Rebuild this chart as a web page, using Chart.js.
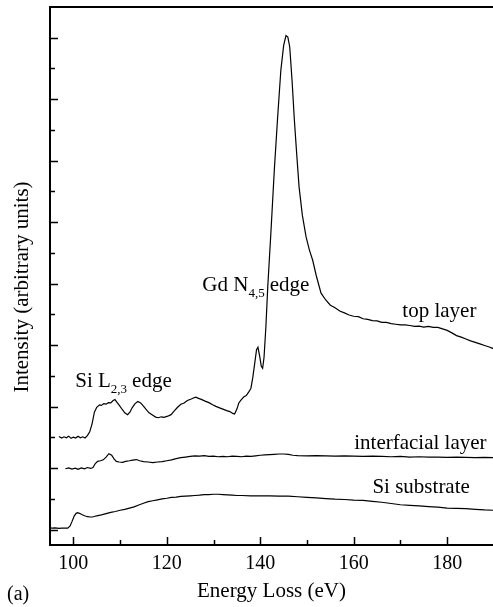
<!DOCTYPE html>
<html>
<head>
<meta charset="utf-8">
<script src="https://cdn.jsdelivr.net/npm/chart.js@4.4.1/dist/chart.umd.min.js"></script>
<style>
  body { margin: 0; background: #fff; }
  canvas { display: block; }
</style>
</head>
<body>
<canvas id="eels-chart" width="493" height="607"></canvas>
<script>
// energy loss (eV) and intensity
var topEnergy = [96.9, 97.5, 98, 98.5, 99, 99.5, 100, 100.5, 101, 101.5, 102, 102.5, 103, 103.5, 104, 104.5, 105, 105.6, 106, 106.5, 107, 107.5, 108, 108.5, 108.9, 109.3, 109.8, 110.5, 111, 111.6, 112.1, 112.6, 113.2, 113.8, 114.4, 115, 115.6, 116.2, 117, 117.6, 118.2, 118.8, 119.4, 120.2, 120.9, 121.6, 122.3, 123, 123.7, 124.4, 125.1, 125.7, 126.2, 126.8, 127.5, 128.2, 129, 129.8, 130.5, 131.3, 132, 132.8, 133.5, 134.1, 134.5, 135, 135.4, 135.9, 136.5, 137, 137.5, 138, 138.4, 138.8, 139.2, 139.5, 139.9, 140.2, 140.5, 140.8, 141.2, 141.6, 142.3, 143, 143.7, 144.4, 145, 145.5, 145.9, 146.3, 146.8, 147.3, 147.8, 148.3, 149, 149.8, 150.5, 151.2, 152, 153, 154, 155, 156, 157, 158, 159, 160, 161, 162, 163, 164, 165, 166, 167, 168, 169, 170, 171, 172, 173, 174, 175, 176, 177, 178, 179, 180, 181, 182, 183, 184, 185, 186, 187, 188, 189, 190];
var topLayer = [3.03, 2.98, 3.02, 2.99, 3.04, 2.97, 3.01, 2.98, 3.04, 2.99, 3.02, 2.98, 3.06, 3.18, 3.44, 3.82, 3.98, 4.06, 4.04, 4.10, 4.08, 4.13, 4.12, 4.20, 4.23, 4.15, 4.05, 3.90, 3.80, 3.74, 3.82, 3.97, 4.10, 4.17, 4.12, 4.02, 3.90, 3.80, 3.72, 3.66, 3.64, 3.67, 3.65, 3.69, 3.74, 3.86, 3.98, 4.08, 4.12, 4.20, 4.24, 4.28, 4.31, 4.27, 4.23, 4.18, 4.13, 4.06, 4.01, 3.96, 3.92, 3.87, 3.84, 3.78, 3.76, 3.92, 4.12, 4.22, 4.32, 4.36, 4.47, 4.60, 4.95, 5.40, 5.85, 5.93, 5.62, 5.32, 5.25, 5.60, 6.60, 7.90, 9.74, 11.69, 13.38, 14.94, 15.75, 16.07, 16.02, 15.70, 14.61, 13.31, 12.20, 11.15, 10.23, 9.52, 9.10, 8.77, 8.25, 7.69, 7.47, 7.30, 7.22, 7.11, 7.05, 6.98, 6.94, 6.93, 6.86, 6.84, 6.80, 6.79, 6.74, 6.74, 6.70, 6.68, 6.66, 6.66, 6.64, 6.61, 6.62, 6.59, 6.61, 6.58, 6.58, 6.53, 6.48, 6.40, 6.31, 6.26, 6.20, 6.14, 6.09, 6.04, 5.99, 5.94, 5.88];

var interfaceEnergy = [98.3, 99, 99.7, 100.4, 101, 101.7, 102.4, 103, 103.7, 104.2, 104.7, 105.2, 105.8, 106.4, 107, 107.6, 108.2, 108.7, 109.2, 109.8, 110.5, 111.2, 112, 112.7, 113.5, 114.2, 115, 116, 117, 118, 119, 120, 121, 122, 123, 124, 125, 126, 127, 128, 129, 130, 131, 132, 133, 134, 135, 136, 137, 138, 139, 140, 141, 142, 143, 144, 145, 146, 147, 148, 150, 152, 154, 156, 158, 160, 162, 164, 166, 168, 170, 172, 174, 176, 178, 180, 182, 184, 186, 188, 190];
var interfaceLayer = [1.98, 2.01, 1.97, 2.00, 1.96, 2.01, 1.98, 2.02, 1.99, 2.02, 2.15, 2.22, 2.24, 2.27, 2.36, 2.47, 2.42, 2.30, 2.22, 2.20, 2.19, 2.22, 2.24, 2.26, 2.28, 2.24, 2.21, 2.20, 2.18, 2.20, 2.21, 2.24, 2.27, 2.31, 2.34, 2.36, 2.38, 2.40, 2.39, 2.41, 2.38, 2.39, 2.37, 2.38, 2.37, 2.39, 2.38, 2.37, 2.39, 2.38, 2.40, 2.42, 2.43, 2.44, 2.45, 2.46, 2.46, 2.45, 2.42, 2.41, 2.40, 2.41, 2.40, 2.39, 2.40, 2.39, 2.38, 2.39, 2.38, 2.37, 2.38, 2.36, 2.37, 2.36, 2.36, 2.35, 2.36, 2.35, 2.34, 2.35, 2.34];

var substrateEnergy = [94.9, 95.5, 96, 96.5, 97, 97.5, 98, 98.8, 99.3, 99.7, 100.2, 100.6, 100.9, 101.3, 101.8, 102.4, 103, 103.6, 104.1, 105, 106, 107, 108, 109, 110, 111, 112, 113, 114, 115, 116, 117, 118, 119, 120, 121, 122, 123, 124, 125, 126, 127, 128, 129, 130, 131, 132, 133, 134, 135, 136, 138, 140, 142, 144, 146, 148, 150, 152, 154, 156, 158, 160, 162, 164, 166, 168, 170, 172, 174, 176, 178, 180, 182, 184, 186, 188, 190];
var siSubstrate = [0.06, 0.05, 0.06, 0.05, 0.04, 0.05, 0.05, 0.05, 0.12, 0.26, 0.45, 0.53, 0.55, 0.53, 0.49, 0.45, 0.42, 0.41, 0.41, 0.45, 0.48, 0.52, 0.56, 0.59, 0.63, 0.66, 0.70, 0.74, 0.80, 0.86, 0.91, 0.94, 0.97, 1.00, 1.02, 1.05, 1.06, 1.08, 1.09, 1.10, 1.11, 1.12, 1.14, 1.14, 1.15, 1.15, 1.14, 1.13, 1.12, 1.11, 1.11, 1.10, 1.10, 1.10, 1.09, 1.09, 1.07, 1.05, 1.03, 1.01, 0.99, 0.98, 0.96, 0.95, 0.92, 0.89, 0.85, 0.81, 0.79, 0.77, 0.75, 0.73, 0.70, 0.69, 0.68, 0.66, 0.64, 0.63];

var xMajorTicks = [100, 120, 140, 160, 180];
var xMinorTicks = [110, 130, 150, 170];
var yMajorTicks = [0, 2, 4, 6, 8, 10, 12, 14, 16];
var yMinorTicks = [1, 3, 5, 7, 9, 11, 13, 15];

var FONT = '"Liberation Serif", "Times New Roman", serif';

function toPoints(xs, ys) {
  var pts = [];
  for (var i = 0; i < xs.length; i++) {
    pts.push({x: xs[i], y: ys[i]});
  }
  return pts;
}

function lineSet(label, xs, ys) {
  return {
    label: label,
    data: toPoints(xs, ys),
    borderColor: '#000',
    borderWidth: 1.2,
    pointRadius: 0,
    tension: 0,
    fill: false
  };
}

// text label with a subscript, anchored at a data position
function drawSubLabel(ctx, x, y, main, sub, rest) {
  ctx.font = '21px ' + FONT;
  ctx.fillText(main, x, y);
  var w = ctx.measureText(main).width;
  ctx.font = '13px ' + FONT;
  ctx.fillText(sub, x + w, y + 6);
  var ws = ctx.measureText(sub).width;
  ctx.font = '21px ' + FONT;
  ctx.fillText(rest, x + w + ws + 5, y);
}

var decorPlugin = {
  id: 'decor',
  afterDraw: function(chart) {
    var ctx = chart.ctx;
    var xs = chart.scales.x;
    var ys = chart.scales.y;
    var area = chart.chartArea;
    ctx.save();
    ctx.strokeStyle = '#000';
    ctx.fillStyle = '#000';

    // top frame line
    ctx.lineWidth = 2;
    ctx.beginPath();
    ctx.moveTo(area.left - 1, area.top);
    ctx.lineTo(area.right, area.top);
    ctx.stroke();

    // inward ticks
    ctx.lineWidth = 1.5;
    ctx.beginPath();
    xMajorTicks.forEach(function(v) {
      var px = Math.round(xs.getPixelForValue(v)) + 0.5;
      ctx.moveTo(px, area.bottom); ctx.lineTo(px, area.bottom - 8);
    });
    xMinorTicks.forEach(function(v) {
      var px = Math.round(xs.getPixelForValue(v)) + 0.5;
      ctx.moveTo(px, area.bottom); ctx.lineTo(px, area.bottom - 5);
    });
    yMajorTicks.forEach(function(v) {
      var py = Math.round(ys.getPixelForValue(v)) + 0.5;
      ctx.moveTo(area.left, py); ctx.lineTo(area.left + 8, py);
    });
    yMinorTicks.forEach(function(v) {
      var py = Math.round(ys.getPixelForValue(v)) + 0.5;
      ctx.moveTo(area.left, py); ctx.lineTo(area.left + 5, py);
    });
    ctx.stroke();

    // curve labels
    ctx.textAlign = 'left';
    ctx.textBaseline = 'alphabetic';
    drawSubLabel(ctx, xs.getPixelForValue(100.4), ys.getPixelForValue(4.64), 'Si L', '2,3', 'edge');
    drawSubLabel(ctx, xs.getPixelForValue(127.6), ys.getPixelForValue(7.77), 'Gd N', '4,5', 'edge');
    ctx.font = '21px ' + FONT;
    ctx.fillText('top layer', xs.getPixelForValue(170.4), ys.getPixelForValue(6.92));
    ctx.fillText('interfacial layer', xs.getPixelForValue(160.1), ys.getPixelForValue(2.63));
    ctx.fillText('Si substrate', xs.getPixelForValue(164.0), ys.getPixelForValue(1.20));

    // panel letter
    ctx.font = '20px ' + FONT;
    ctx.fillText('(a)', 7, 600);

    // y axis title
    ctx.translate(28, 287);
    ctx.rotate(-Math.PI / 2);
    ctx.textAlign = 'center';
    ctx.font = '21px ' + FONT;
    ctx.fillText('Intensity (arbitrary units)', 0, 0);
    ctx.restore();
  }
};

var ctx = document.getElementById('eels-chart').getContext('2d');
var eelsChart = new Chart(ctx, {
  type: 'line',
  data: {
    datasets: [
      lineSet('top layer', topEnergy, topLayer),
      lineSet('interfacial layer', interfaceEnergy, interfaceLayer),
      lineSet('Si substrate', substrateEnergy, siSubstrate)
    ]
  },
  options: {
    responsive: false,
    animation: false,
    layout: { padding: { top: 7, right: 0, left: 0, bottom: 0 } },
    plugins: {
      legend: { display: false },
      tooltip: { enabled: false }
    },
    scales: {
      x: {
        type: 'linear',
        position: 'bottom',
        min: 95,
        max: 189.8,
        afterBuildTicks: function(scale) {
          scale.ticks = xMajorTicks.map(function(v) { return {value: v}; });
        },
        afterFit: function(scale) { scale.height = 62; },
        grid: { display: false, drawTicks: false },
        border: { display: true, width: 2, color: '#000' },
        ticks: {
          color: '#000',
          padding: 7,
          maxRotation: 0,
          font: { family: FONT, size: 20 }
        },
        title: {
          display: true,
          text: 'Energy Loss (eV)',
          color: '#000',
          font: { family: FONT, size: 21 },
          padding: { top: 0, bottom: 3 }
        }
      },
      y: {
        type: 'linear',
        min: -0.5,
        max: 17,
        afterFit: function(scale) { scale.width = 50; },
        grid: { display: false, drawTicks: false },
        border: { display: true, width: 2, color: '#000' },
        ticks: { display: false },
        title: { display: false }
      }
    }
  },
  plugins: [decorPlugin]
});
</script>
</body>
</html>
